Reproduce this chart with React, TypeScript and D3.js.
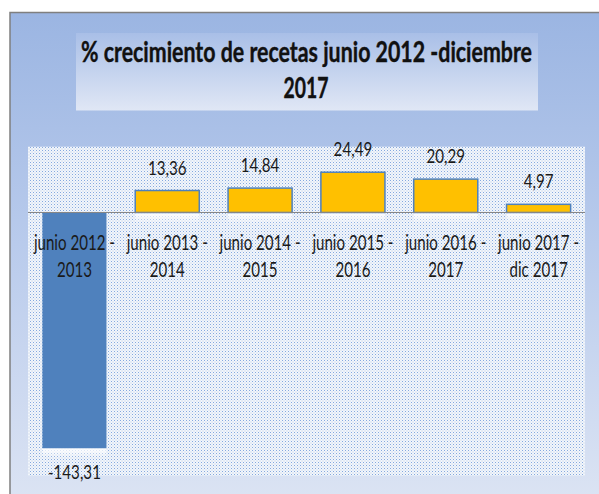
import React, { useLayoutEffect, useRef, useState } from "react";
import * as d3 from "d3";

const categories = [
  "junio 2012 -\n2013",
  "junio 2013 -\n2014",
  "junio 2014 -\n2015",
  "junio 2015 -\n2016",
  "junio 2016 -\n2017",
  "junio 2017 -\ndic 2017",
];
const values = [-143.31, 13.36, 14.84, 24.49, 20.29, 4.97];
const yDomain: [number, number] = [-160, 40];
const titleLines = ["% crecimiento de recetas junio 2012 -diciembre", "2017"];

const W = 599;
const H = 494;
const plot = { left: 28, right: 585, top: 146.7, bottom: 475.7 };
const FONT = "Lato, 'Open Sans', sans-serif";
const titleTargets = [451, 45];

const locale = d3.formatLocale({ decimal: ",", thousands: ".", grouping: [3], currency: ["", "€"], minus: "-" });
const fmt = locale.format(".2f");

export default function App() {
  const t0 = useRef<SVGTextElement>(null);
  const t1 = useRef<SVGTextElement>(null);
  const [titleScale, setTitleScale] = useState<number[]>([0.7, 0.7]);

  useLayoutEffect(() => {
    const refs = [t0, t1];
    const s = refs.map((r, i) => {
      const el = r.current;
      if (!el) return 0.7;
      const w = el.getComputedTextLength();
      return w > 0 ? titleTargets[i] / w : 0.7;
    });
    setTitleScale(s);
  }, []);

  const x = d3
    .scaleBand<string>()
    .domain(categories)
    .range([plot.left, plot.right])
    .paddingInner(0.31)
    .paddingOuter(0.155);
  const y = d3.scaleLinear().domain(yDomain).range([plot.bottom, plot.top]);
  const y0 = y(0);

  return (
    <svg width={W} height={H} style={{ position: "absolute", left: 0, top: 0, display: "block" }}>
      <defs>
        <linearGradient id="bg" x1="0" y1="0" x2="0" y2="1">
          <stop offset="0" stopColor="#9bb5e2" />
          <stop offset="0.45" stopColor="#b9cbec" />
          <stop offset="1" stopColor="#dfe6f4" />
        </linearGradient>
        <linearGradient id="titlebg" x1="0" y1="0" x2="0" y2="1">
          <stop offset="0" stopColor="#a9bfe7" />
          <stop offset="1" stopColor="#e0e7f5" />
        </linearGradient>
        <linearGradient id="refl" x1="0" y1="0" x2="0" y2="1">
          <stop offset="0" stopColor="#ffffff" stopOpacity="0.95" />
          <stop offset="1" stopColor="#ffffff" stopOpacity="0" />
        </linearGradient>
        <pattern id="dots" width="3" height="3" patternUnits="userSpaceOnUse">
          <rect width="3" height="3" fill="#f2f6fc" />
          <rect x="0" y="0" width="1" height="1" fill="#86a9dd" />
          <rect x="1.5" y="1.5" width="1" height="1" fill="#bccbe2" />
        </pattern>
      </defs>

      {/* outer chart frame */}
      <rect x={10} y={12.5} width={W + 20} height={H + 20} fill="url(#bg)" stroke="#7f7f7f" strokeWidth={1.5} />

      {/* title box */}
      <rect x={76} y={33} width={462} height={77.5} fill="url(#titlebg)" />
      {titleLines.map((line, i) => (
        <text
          key={"t" + i}
          ref={i === 0 ? t0 : t1}
          transform={`translate(${i === 0 ? 306.5 : 306},${i === 0 ? 61.5 : 98}) scale(${titleScale[i]},1)`}
          textAnchor="middle"
          fontFamily={FONT}
          fontWeight={700}
          fontSize={28}
          fill="#111"
          stroke="#111"
          strokeWidth={0.4}
        >
          {line}
        </text>
      ))}

      {/* plot area */}
      <rect
        x={plot.left}
        y={plot.top}
        width={plot.right - plot.left}
        height={plot.bottom - plot.top}
        fill="url(#dots)"
      />

      {/* bars */}
      {values.map((v, i) => {
        const c = categories[i];
        const bx = x(c)!;
        const bw = x.bandwidth();
        const top = Math.min(y(v), y0);
        const h = Math.abs(y(v) - y0);
        const neg = v < 0;
        return (
          <g key={c}>
            <rect
              x={bx}
              y={neg ? y(v) : y0}
              width={bw}
              height={neg ? 9 : 11}
              fill="url(#refl)"
            />
            <rect
              x={bx}
              y={top}
              width={bw}
              height={h}
              fill={neg ? "#4f81bd" : "#ffc000"}
              stroke={neg ? "none" : "#4f81bd"}
              strokeWidth={1.5}
            />
          </g>
        );
      })}

      {/* zero line */}
      <line x1={plot.left} x2={plot.right} y1={y0} y2={y0} stroke="#868686" strokeWidth={1} />

      {/* value labels */}
      {values.map((v, i) => {
        const cx = x(categories[i])! + x.bandwidth() / 2;
        const ly = v < 0 ? y(v) + 31 : y(v) - 16;
        return (
          <text
            key={"v" + i}
            transform={`translate(${cx},${ly}) scale(0.82,1)`}
            textAnchor="middle"
            fontFamily={FONT}
            fontSize={18.5}
            fill="#1a1a1a"
          >
            {fmt(v)}
          </text>
        );
      })}

      {/* category labels */}
      {categories.map((c) => {
        const cx = x(c)! + x.bandwidth() / 2;
        return c.split("\n").map((line, j) => (
          <text
            key={c + j}
            transform={`translate(${cx},${250 + j * 26.5}) scale(0.72,1)`}
            textAnchor="middle"
            fontFamily={FONT}
            fontSize={21}
            fill="#1a1a1a"
          >
            {line}
          </text>
        ));
      })}
    </svg>
  );
}
